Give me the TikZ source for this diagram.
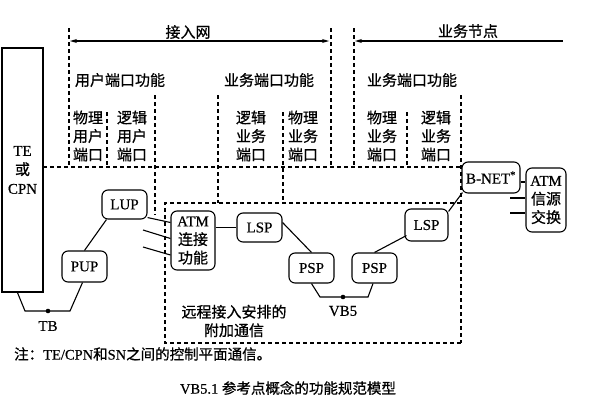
\documentclass[tikz,border=0pt]{standalone}
\usepackage{fontspec}
\setmainfont{Liberation Serif}[FakeBold=0.4]
\newfontfamily\cjk{Noto Sans CJK SC}[FakeBold=0.8]
\usetikzlibrary{arrows.meta,calc}
\begin{document}
\begin{tikzpicture}[x=1pt,y=-1pt,
  box/.style={draw, fill=white, rounded corners=6pt, line width=1.1pt, inner sep=0pt, align=center, font=\fontsize{15}{18.5}\selectfont},
  dline/.style={line width=1.1pt, dash pattern=on 4pt off 3pt},
  conn/.style={line width=1.1pt},
  lbl/.style={font=\cjk\fontsize{15}{18.5}\selectfont, inner sep=0pt, align=center},
  lat/.style={font=\fontsize{15}{17}\selectfont, inner sep=0pt},
  tip/.style={line width=1.1pt},
  arr/.tip={Stealth[length=7pt,width=4pt]}
]
\useasboundingbox (0,0) rectangle (600,400);

% dashed layout lines
\draw[dline] (69,28) -- (69,167);
\draw[dline] (43,167) -- (462,167);
\draw[dline] (107,112) -- (107,167);
\draw[dline] (155,95) -- (155,215);
\draw[dline] (218,95) -- (218,203);
\draw[dline] (283,112) -- (283,203);
\draw[dline] (331,28) -- (331,167);
\draw[dline] (354,28) -- (354,167);
\draw[dline] (407,112) -- (407,167);
\draw[dline] (461,95) -- (461,343);
\draw[dline] (461,203) -- (165,203) -- (165,343) -- (461,343);

% top arrows
\draw[tip, arr-arr] (70,41) -- (329,41);
\draw[tip, arr-] (355,41) -- (563,41);
\node[lbl] at (188,32) {接入网};
\node[lbl] at (468,31) {业务节点};

\node[lbl] at (120,80) {用户端口功能};
\node[lbl] at (269,80) {业务端口功能};
\node[lbl] at (412,80) {业务端口功能};

\node[lbl] at (88,136) {物理\\用户\\端口};
\node[lbl] at (132,136) {逻辑\\用户\\端口};
\node[lbl] at (251,136) {逻辑\\业务\\端口};
\node[lbl] at (303,136) {物理\\业务\\端口};
\node[lbl] at (382,136) {物理\\业务\\端口};
\node[lbl] at (436,136) {逻辑\\业务\\端口};

% TE box
\node[draw, fill=white, line width=1.1pt, minimum width=41pt, minimum height=244pt, inner sep=0pt, align=center, font=\fontsize{15}{19}\selectfont] (te) at (22.5,170) {TE\\{\cjk 或}\\CPN};

% nodes
\node[box, minimum width=45pt, minimum height=29pt] (lup) at (124.5,204.5) {LUP};
\node[box, minimum width=45pt, minimum height=31pt] (pup) at (84.5,266.5) {PUP};
\node[box, minimum width=44pt, minimum height=59pt] (atm) at (193,240.5) {ATM\\{\cjk 连接}\\{\cjk 功能}};
\node[box, minimum width=45pt, minimum height=29pt] (lspl) at (259.5,227.5) {LSP};
\node[box, minimum width=45pt, minimum height=30pt] (pspl) at (311.5,268) {PSP};
\node[box, minimum width=45pt, minimum height=30pt] (pspr) at (374.5,268) {PSP};
\node[box, minimum width=43pt, minimum height=32pt] (lspr) at (426.5,225) {LSP};
\node[box, minimum width=58pt, minimum height=31pt] (bnet) at (491,177.5) {B-NET\textsuperscript{*}};
\node[box, minimum width=40pt, minimum height=64pt] (atms) at (546,200) {ATM\\{\cjk 信源}\\{\cjk 交换}};

% coordinates
\coordinate (tbL) at (25,311);
\coordinate (tbR) at (70,311);
\coordinate (tb) at (48,311);
\coordinate (vbL) at (320,297);
\coordinate (vbR) at (368,297);
\coordinate (vb) at (343,297);
\coordinate (s1) at (143,230);
\coordinate (s2) at (143,247);
\coordinate (s3) at (510,198);
\coordinate (s4) at (510,213);

% connectors
\draw[conn] ($(te.south west)+(16,0)$) -- (tbL) -- (tbR) -- ($(pup.south)+(-2,0)$);
\draw[conn] (pup.north) -- ($(lup.south west)+(5,0)$);
\draw[conn] ($(lup.south east)+(0,-2)$) -- ($(atm.west)+(0,-18)$);
\draw[conn] (s1) -- ($(atm.west)+(0,-2)$);
\draw[conn] (s2) -- ($(atm.west)+(0,14.5)$);
\draw[conn] (atm.east |- lspl.west) -- (lspl.west);
\draw[conn] ($(lspl.east)+(0,-5)$) -- (pspl.north);
\draw[conn] (pspl.south) -- (vbL) -- (vbR) -- ($(pspr.south)+(-1.5,0)$);
\draw[conn] (pspr.north) -- ($(lspr.south west)+(2,-6)$);
\draw[conn] ($(lspr.north east)+(0,3)$) -- ($(bnet.south west)+(1,-1)$);
\draw[conn] ($(bnet.east)+(0,4.5)$) -- ($(atms.west)+(0,-18)$);
\draw[conn] (s3) -- ($(atms.west)+(0,-2)$);
\draw[conn] (s4) -- ($(atms.west)+(0,13)$);

\fill (tb) circle (2.3pt);
\fill (vb) circle (2.3pt);
\node[lat] at (48,326) {TB};
\node[lat] at (343,311) {VB5};

\node[lbl] at (234,321) {远程接入安排的\\附加通信};

\node[lat, anchor=west, font=\fontsize{14.5}{17}\selectfont] at (14,354) {{\cjk 注：}TE/CPN{\cjk 和}SN{\cjk 之间的控制平面通信。}};
\node[lat, font=\fontsize{14.5}{17}\selectfont] at (288,388) {VB5.1 {\cjk 参考点概念的功能规范模型}};
\end{tikzpicture}
\end{document}
